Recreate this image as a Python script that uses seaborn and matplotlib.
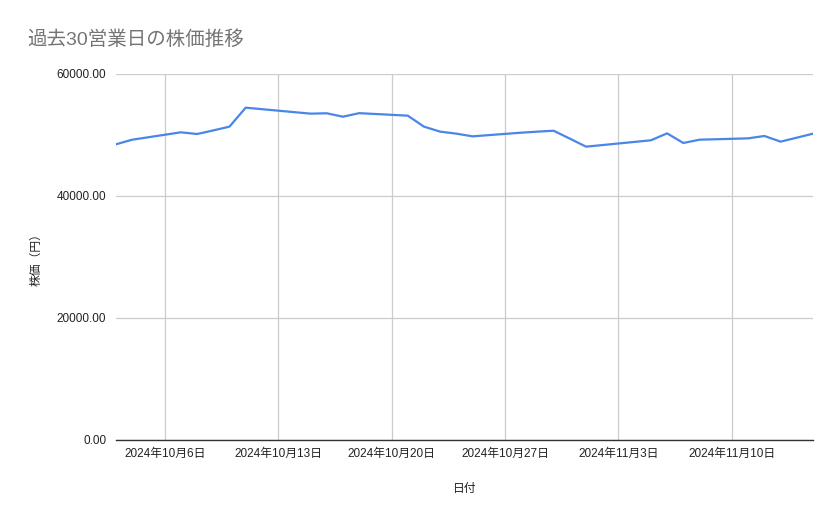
import seaborn as sns
import matplotlib.pyplot as plt
import matplotlib.dates as mdates
import pandas as pd

dates = ['2024-10-03', '2024-10-04', '2024-10-07', '2024-10-08', '2024-10-09',
         '2024-10-10', '2024-10-11', '2024-10-15', '2024-10-16', '2024-10-17',
         '2024-10-18', '2024-10-21', '2024-10-22', '2024-10-23', '2024-10-24',
         '2024-10-25', '2024-10-28', '2024-10-29', '2024-10-30', '2024-10-31',
         '2024-11-01', '2024-11-05', '2024-11-06', '2024-11-07', '2024-11-08',
         '2024-11-11', '2024-11-12', '2024-11-13', '2024-11-14', '2024-11-15']
prices = [48480, 49230, 50440, 50160, 50750,
          51370, 54480, 53500, 53560, 53000,
          53580, 53170, 51370, 50550, 50220,
          49780, 50380, 50550, 50700, 49400,
          48090, 49130, 50270, 48690, 49230,
          49450, 49840, 48910, 49560, 50220]
tick_dates = ['2024-10-06', '2024-10-13', '2024-10-20', '2024-10-27', '2024-11-03', '2024-11-10']
tick_labels = ['2024年10月6日', '2024年10月13日', '2024年10月20日', '2024年10月27日',
               '2024年11月3日', '2024年11月10日']
y_ticks = [0, 20000, 40000, 60000]

sns.set_style('white')
plt.rcParams['font.family'] = ['Liberation Sans', 'Noto Sans CJK JP', 'DejaVu Sans']

df = pd.DataFrame({'日付': pd.to_datetime(dates), '株価（円）': prices})

fig = plt.figure(figsize=(8.39, 5.19), dpi=100)
ax = fig.add_axes([116 / 839, 1 - 440 / 519, (813 - 116) / 839, (440 - 74) / 519])
sns.lineplot(data=df, x='日付', y='株価（円）', ax=ax, color='#4a86e8', linewidth=1.6)

ax.set_xlim(df['日付'].min(), df['日付'].max())
ax.set_ylim(0, 60000)
ax.set_yticks(y_ticks)
ax.set_yticklabels([f'{v:.2f}' for v in y_ticks])
ax.set_xticks(mdates.date2num(pd.to_datetime(tick_dates)))
ax.set_xticklabels(tick_labels)

ax.grid(True, color='#cccccc', linewidth=0.9)
ax.set_axisbelow(True)
for s in ['top', 'right', 'left']:
    ax.spines[s].set_visible(False)
ax.spines['bottom'].set_color('#333333')
ax.spines['bottom'].set_linewidth(1.0)
ax.tick_params(axis='y', length=4, color='#cccccc', pad=3, labelsize=8.5, labelcolor='#222222')
ax.tick_params(axis='x', length=0, pad=6, labelsize=8.5, labelcolor='#222222')

ax.set_xlabel('日付', fontsize=8.5, labelpad=16, color='#222222')
ax.set_ylabel('株価（円）', fontsize=8.5, labelpad=10, color='#222222')

fig.text(27 / 839, 1 - 40 / 519, '過去30営業日の株価推移', fontsize=14, color='#757575', va='center')

fig.savefig('out.png', dpi=100)
